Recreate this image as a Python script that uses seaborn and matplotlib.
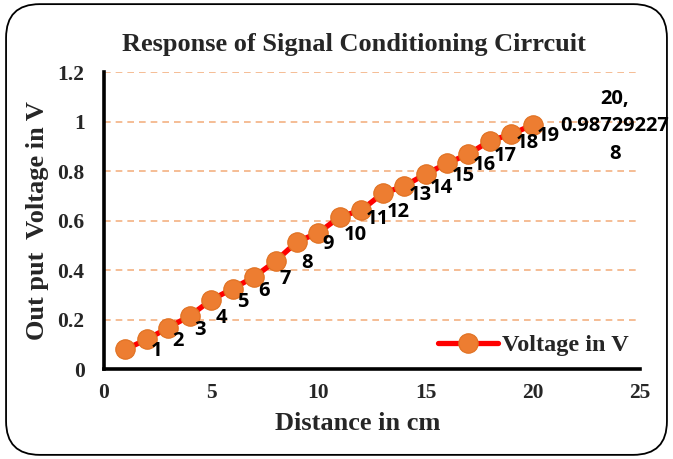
import matplotlib
matplotlib.use("Agg")
import matplotlib.pyplot as plt
import seaborn as sns
import pandas as pd
from matplotlib.patches import FancyBboxPatch

distance_cm = [1, 2, 3, 4, 5, 6, 7, 8, 9, 10, 11, 12, 13, 14, 15, 16, 17, 18, 19, 20]
voltage_v = [0.08, 0.12, 0.167, 0.215, 0.279, 0.325, 0.372, 0.436, 0.514, 0.551,
             0.615, 0.642, 0.71, 0.739, 0.788, 0.831, 0.869, 0.922, 0.949, 0.98729227]
point_labels = [str(i) for i in range(1, 20)] + ["20,\n0.98729227\n8"]
x_ticks = [0, 5, 10, 15, 20, 25]
y_ticks = [0, 0.2, 0.4, 0.6, 0.8, 1.0, 1.2]
y_tick_labels = ["0", "0.2", "0.4", "0.6", "0.8", "1", "1.2"]

sns.set_theme(style="white")
serif = ["Liberation Serif", "DejaVu Serif"]
sans = ["Open Sans", "DejaVu Sans"]

fig = plt.figure(figsize=(6.73, 4.59), dpi=100)
ax = fig.add_axes([0.1545, 0.196, 0.7965, 0.647])

df = pd.DataFrame({"Distance": distance_cm, "Voltage": voltage_v})

for y in y_ticks[1:]:
    ax.axhline(y, color="#F4B183", linestyle=(0, (4, 3)), linewidth=1.2, zorder=0)

sns.lineplot(data=df, x="Distance", y="Voltage", ax=ax, color="#FF0000", linewidth=3.8,
             marker="o", markersize=14, markerfacecolor="#ED7D31",
             markeredgecolor="#E07020", markeredgewidth=0.8, label="Voltage in V", zorder=3)

for i, (xv, yv, lab) in enumerate(zip(distance_cm, voltage_v, point_labels)):
    if i < len(distance_cm) - 1:
        ax.annotate(lab, (xv, yv), xytext=(18.5, -1.5), textcoords="offset points",
                    ha="left", va="center", fontsize=14.5, fontweight="bold",
                    family=sans, color="black", zorder=4)
    else:
        ax.annotate(lab, (xv, yv), xytext=(59, -1), textcoords="offset points",
                    ha="center", va="center", fontsize=14.5, fontweight="bold",
                    family=sans, color="black", linespacing=1.5, zorder=4)

ax.set_xlim(0, 25)
ax.set_ylim(0, 1.2)
ax.set_xticks(x_ticks)
ax.set_yticks(y_ticks)
ax.set_xticklabels([str(t) for t in x_ticks], fontsize=15.5, fontweight="bold", family=serif)
ax.set_yticklabels(y_tick_labels, fontsize=15.5, fontweight="bold", family=serif)
ax.tick_params(axis="both", length=0)
ax.tick_params(axis="x", pad=10)
ax.tick_params(axis="y", pad=14)

ax.set_xlabel("Distance in cm", fontsize=19, fontweight="bold", family=serif)
ax.xaxis.set_label_coords(0.474, -0.145)
ax.set_ylabel("Out put  Voltage in V", fontsize=19, fontweight="bold", family=serif, labelpad=6)
fig.text(354 / 673, 1 - 45 / 459, "Response of Signal Conditioning Cirrcuit", fontsize=19,
         fontweight="bold", family=serif, ha="center", va="center")

for s in ["top", "right"]:
    ax.spines[s].set_visible(False)
for s in ["left", "bottom"]:
    ax.spines[s].set_color("black")
    ax.spines[s].set_linewidth(2.6)

leg = ax.legend(loc="lower right", bbox_to_anchor=(1.02, -0.03), frameon=False,
                prop={"family": serif, "weight": "bold", "size": 17.5},
                handlelength=2.5, handletextpad=0.15)

border = FancyBboxPatch((0.009, 0.009), 0.982, 0.982, boxstyle="round,pad=0,rounding_size=0.05",
                        transform=fig.transFigure, fill=False, edgecolor="black",
                        linewidth=1.3, mutation_aspect=673/459)
fig.patches.append(border)

fig.savefig("out.png", dpi=100)
